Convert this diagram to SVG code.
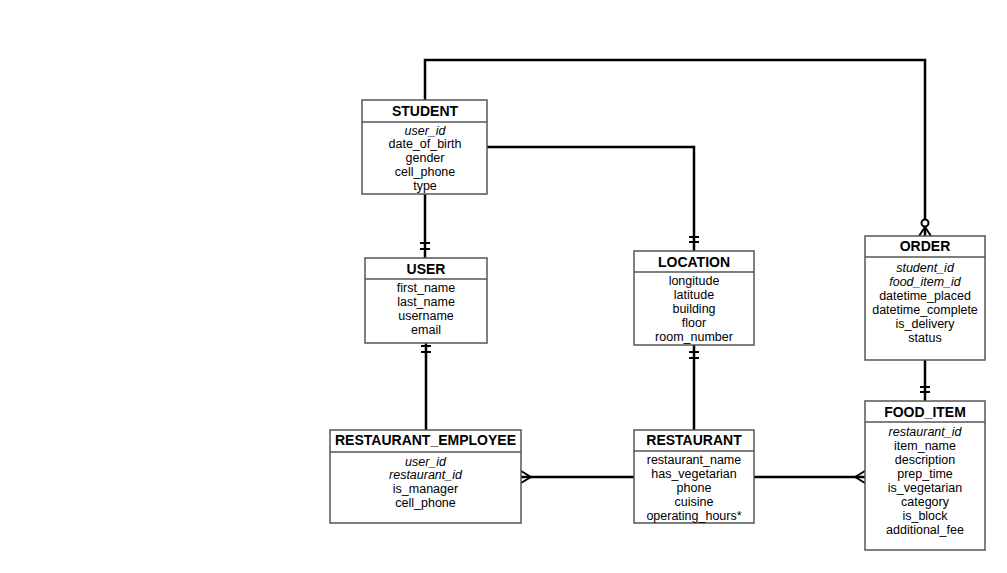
<svg xmlns="http://www.w3.org/2000/svg" width="1007" height="573" viewBox="0 0 1007 573">
<style>
.box{fill:#fff;stroke:#555;stroke-width:1.5}
.sep{stroke:#555;stroke-width:1.5}
.t{font-family:"Liberation Sans",Arial,sans-serif;font-size:14px;font-weight:bold;text-anchor:middle;fill:#000}
.a{font-family:"Liberation Sans",Arial,sans-serif;font-size:12.5px;text-anchor:middle;fill:#000}
.i{font-style:italic}
.c{fill:none;stroke:#000;stroke-width:2.5}
.m{fill:none;stroke:#000;stroke-width:2}
</style>
<rect width="1007" height="573" fill="#fff"/>
<g id="connectors">
  <polyline class="c" points="425,100 425,60 925,60 925,236"/>
  <circle cx="925" cy="223" r="3.5" fill="#fff" stroke="#000" stroke-width="2"/>
  <path class="m" d="M925,227 L919,236 M925,227 L931,236"/>
  <polyline class="c" points="487,147 694,147 694,251"/>
  <path class="m" d="M689,237 H699 M689,242 H699"/>
  <line class="c" x1="425" y1="194" x2="425" y2="258"/>
  <path class="m" d="M420,243 H430 M420,249 H430"/>
  <line class="c" x1="426" y1="343" x2="426" y2="430"/>
  <path class="m" d="M421,346 H431 M421,352 H431"/>
  <line class="c" x1="694" y1="345" x2="694" y2="430"/>
  <path class="m" d="M689,352 H699 M689,358 H699"/>
  <line class="c" x1="521" y1="477" x2="634" y2="477"/>
  <path class="m" d="M531,477 L521,471 M531,477 L521,483"/>
  <line class="c" x1="754" y1="477" x2="865" y2="477"/>
  <path class="m" d="M855,477 L865,471 M855,477 L865,483"/>
  <line class="c" x1="925" y1="360" x2="925" y2="401"/>
  <path class="m" d="M920,387 H930 M920,392 H930"/>
</g>
<g id="student">
  <rect class="box" x="362" y="100" width="125" height="94"/>
  <line class="sep" x1="362" y1="122" x2="487" y2="122"/>
  <text class="t" x="425" y="116">STUDENT</text>
  <text class="a i" x="425" y="135">user_id</text>
  <text class="a" x="425" y="148">date_of_birth</text>
  <text class="a" x="425" y="162">gender</text>
  <text class="a" x="425" y="176">cell_phone</text>
  <text class="a" x="425" y="190">type</text>
</g>
<g id="user">
  <rect class="box" x="365" y="258" width="122" height="85"/>
  <line class="sep" x1="365" y1="279" x2="487" y2="279"/>
  <text class="t" x="426" y="274">USER</text>
  <text class="a" x="426" y="292">first_name</text>
  <text class="a" x="426" y="306">last_name</text>
  <text class="a" x="426" y="320">username</text>
  <text class="a" x="426" y="334">email</text>
</g>
<g id="restaurant_employee">
  <rect class="box" x="330" y="430" width="191" height="93"/>
  <line class="sep" x1="330" y1="452" x2="521" y2="452"/>
  <text class="t" x="425.5" y="445">RESTAURANT_EMPLOYEE</text>
  <text class="a i" x="425.5" y="466">user_id</text>
  <text class="a i" x="425.5" y="479">restaurant_id</text>
  <text class="a" x="425.5" y="493">is_manager</text>
  <text class="a" x="425.5" y="507">cell_phone</text>
</g>
<g id="location">
  <rect class="box" x="634" y="251" width="120" height="94"/>
  <line class="sep" x1="634" y1="272" x2="754" y2="272"/>
  <text class="t" x="694" y="267">LOCATION</text>
  <text class="a" x="694" y="285">longitude</text>
  <text class="a" x="694" y="299">latitude</text>
  <text class="a" x="694" y="313">building</text>
  <text class="a" x="694" y="327">floor</text>
  <text class="a" x="694" y="341">room_number</text>
</g>
<g id="restaurant">
  <rect class="box" x="634" y="430" width="120" height="93"/>
  <line class="sep" x1="634" y1="451" x2="754" y2="451"/>
  <text class="t" x="694" y="445">RESTAURANT</text>
  <text class="a" x="694" y="464">restaurant_name</text>
  <text class="a" x="694" y="478">has_vegetarian</text>
  <text class="a" x="694" y="492">phone</text>
  <text class="a" x="694" y="506">cuisine</text>
  <text class="a" x="694" y="520">operating_hours*</text>
</g>
<g id="order">
  <rect class="box" x="865" y="236" width="120" height="124"/>
  <line class="sep" x1="865" y1="257" x2="985" y2="257"/>
  <text class="t" x="925" y="251">ORDER</text>
  <text class="a i" x="925" y="272">student_id</text>
  <text class="a i" x="925" y="286">food_item_id</text>
  <text class="a" x="925" y="300">datetime_placed</text>
  <text class="a" x="925" y="314">datetime_complete</text>
  <text class="a" x="925" y="328">is_delivery</text>
  <text class="a" x="925" y="342">status</text>
</g>
<g id="food_item">
  <rect class="box" x="865" y="401" width="120" height="149"/>
  <line class="sep" x1="865" y1="422" x2="985" y2="422"/>
  <text class="t" x="925" y="417">FOOD_ITEM</text>
  <text class="a i" x="925" y="436">restaurant_id</text>
  <text class="a" x="925" y="450">item_name</text>
  <text class="a" x="925" y="464">description</text>
  <text class="a" x="925" y="478">prep_time</text>
  <text class="a" x="925" y="492">is_vegetarian</text>
  <text class="a" x="925" y="506">category</text>
  <text class="a" x="925" y="520">is_block</text>
  <text class="a" x="925" y="534">additional_fee</text>
</g>
</svg>
